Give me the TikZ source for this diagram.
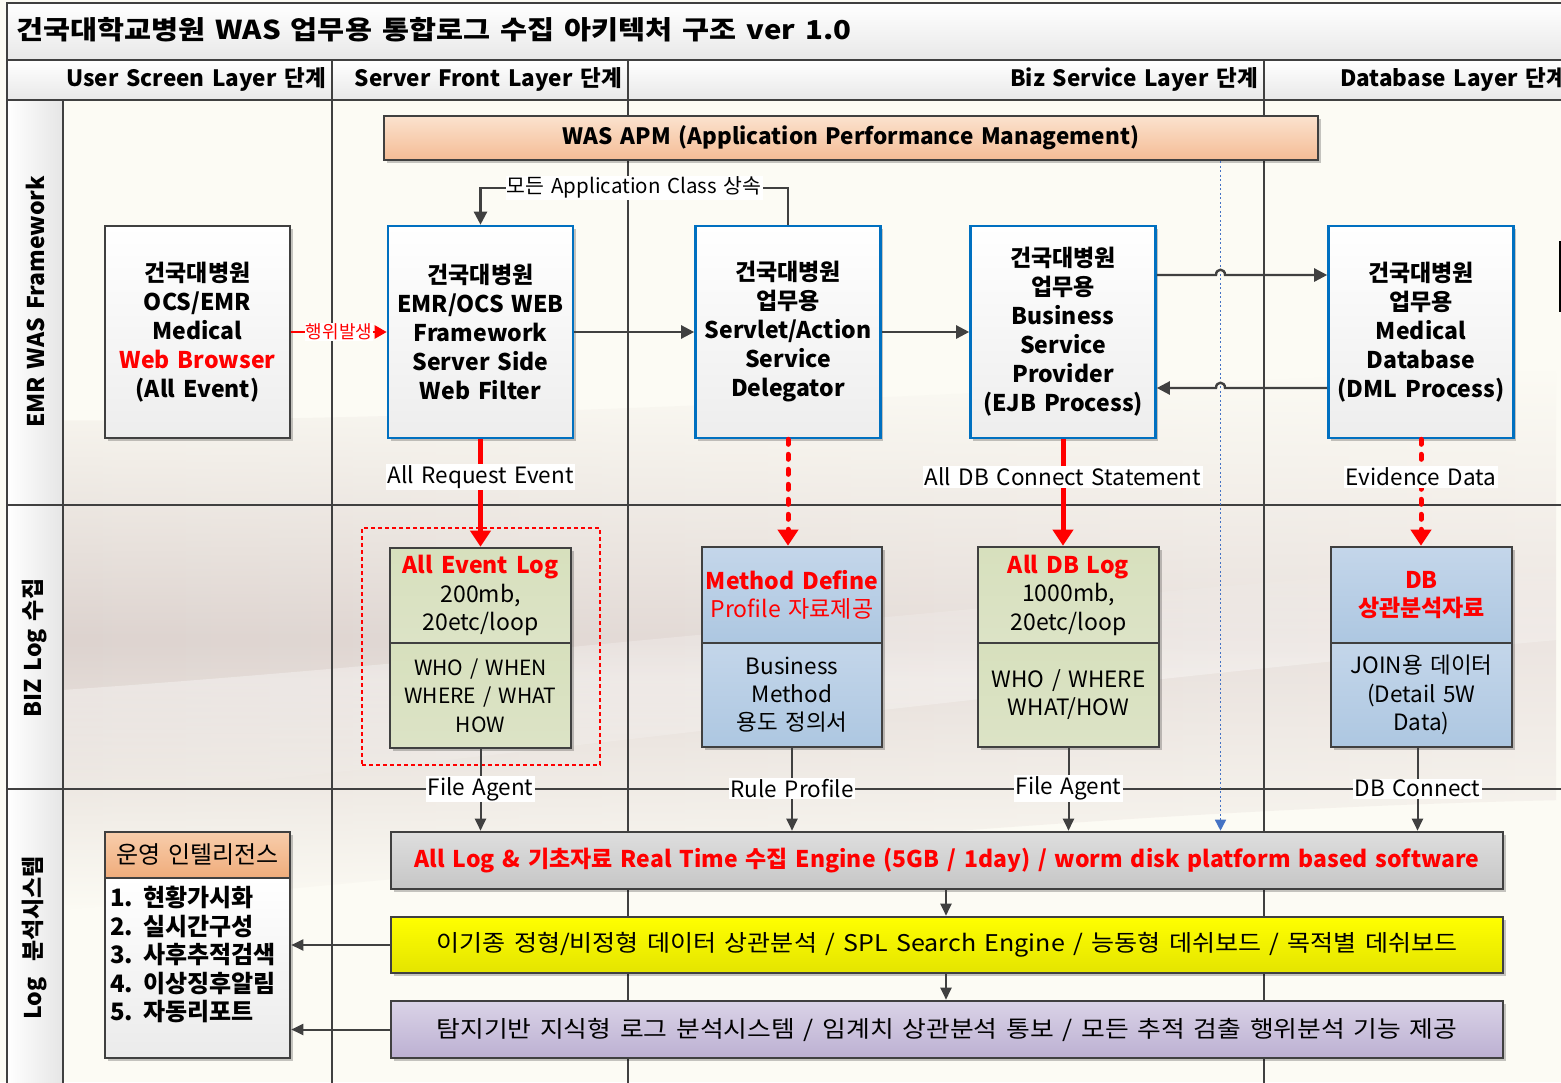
\documentclass[tikz,border=0pt]{standalone}
\usepackage{fontspec}
\setmainfont{Noto Sans CJK KR}[WordSpace=1.5]
\usetikzlibrary{arrows.meta,shadows,fadings}
\definecolor{ln}{HTML}{404040}
\definecolor{bluee}{HTML}{0070C0}
\definecolor{cream}{HTML}{FCFBF4}
\definecolor{swA}{HTML}{DDD3CF}
\definecolor{swB}{HTML}{ECE5E1}
\definecolor{grnA}{HTML}{D7E0BD}
\definecolor{grnB}{HTML}{DCE3C6}
\definecolor{bluA}{HTML}{C4D6EA}
\definecolor{bluB}{HTML}{ADC7E1}
\definecolor{apmA}{HTML}{FBE2CE}
\definecolor{apmB}{HTML}{F4BC95}
\definecolor{engA}{HTML}{DEDEDE}
\definecolor{engB}{HTML}{C6C6C6}
\definecolor{yelA}{HTML}{FFFF00}
\definecolor{yelB}{HTML}{E4E400}
\definecolor{purA}{HTML}{DAD3E7}
\definecolor{purB}{HTML}{BCB0D2}
\definecolor{orgA}{HTML}{F8CDAB}
\definecolor{orgB}{HTML}{EFAC7B}
\definecolor{trf}{HTML}{4472C4}
\newcommand\myfs[2]{\fontsize{#1}{#2}\selectfont}
\tikzfading[name=softband, top color=transparent!100, bottom color=transparent!100, middle color=transparent!0]
\begin{document}
\begin{tikzpicture}[x=1pt,y=-1pt,
  frame/.style={draw=ln, line width=2.6pt},
  shad/.style={drop shadow={shadow xshift=2.5pt, shadow yshift=-2.5pt, opacity=0.22, fill=black}},
  bigbox/.style={draw=ln, line width=2.6pt, minimum width=185, minimum height=212, align=center,
     font=\myfs{23}{29}\bfseries, top color=white, bottom color=black!7, shad, inner sep=2pt},
  bluebox/.style={bigbox, draw=bluee},
  logbox/.style={draw=ln, line width=2.6pt, minimum width=181, align=center, shad, inner sep=1pt},
  grnbox/.style={logbox, top color=grnA, bottom color=grnB},
  blubox/.style={logbox, top color=bluA, bottom color=bluB},
  bar/.style={draw=ln, line width=2.6pt, minimum width=1112, minimum height=56, shad},
  lbl/.style={fill=white, inner sep=1.5pt, font=\myfs{22.5}{26}},
  arr/.style={draw=ln, line width=2.4pt, -{Triangle[width=13pt,length=13pt]}},
  sarr/.style={draw=ln, line width=2pt, -{Triangle[width=11pt,length=12pt]}},
  redarr/.style={draw=red, line width=5pt, -{Triangle[width=20pt,length=16pt]}},
  reddash/.style={redarr, line cap=round, dash pattern=on 5pt off 10pt},
  lane/.style={rotate=90, font=\myfs{23}{26}\bfseries},
  hdr/.style={font=\myfs{22.5}{25}\bfseries, inner sep=0pt},
]
\clip (0,0) rectangle (1561,1082);
% background
\fill[cream] (0,0) rectangle (1561,1082);
\shade[left color=swA, right color=swB, path fading=softband]
  (63,420) .. controls (600,420) and (1100,380) .. (1561,370) -- (1561,800)
  .. controls (1100,810) and (600,860) .. (63,910) -- cycle;
\fill[white, opacity=0.35, path fading=softband]
  (63,690) .. controls (500,660) and (1000,600) .. (1561,560) -- (1561,640)
  .. controls (1000,690) and (500,760) .. (63,800) -- cycle;
\shade[top color=white, bottom color=black!9] (7,3) rectangle (1561,60);
\shade[top color=white, bottom color=black!9] (7,60) rectangle (1561,100);
\shade[left color=white, right color=black!10] (7,100) rectangle (63,1082);
% grid
\draw[frame] (7,1090) -- (7,3) -- (1570,3);
\draw[frame] (7,60) -- (1570,60);
\draw[frame] (7,100) -- (1570,100);
\draw[frame] (63,100) -- (63,1090);
\draw[frame] (332,60) -- (332,1090);
\draw[frame] (628,60) -- (628,1090);
\draw[frame] (1264,60) -- (1264,1090);
\draw[frame] (7,505) -- (1570,505);
\draw[frame] (7,789) -- (1570,789);
% title and headers
\node[anchor=west, inner sep=0pt] (title) at (16,30) {\resizebox{835pt}{\height}{\myfs{26}{30}\bfseries 건국대학교병원 WAS 업무용 통합로그 수집 아키텍처 구조 ver 1.0}};
\node[hdr, anchor=east] (h1) at (326,79) {User Screen Layer 단계};
\node[hdr, anchor=east] (h2) at (622,79) {Server Front Layer 단계};
\node[hdr, anchor=east] (h3) at (1258,79) {Biz Service Layer 단계};
\node[hdr, anchor=west] (h4) at (1340,79) {Database Layer 단계};
\node[lane] (l1) at (35,302) {EMR WAS Framework};
\node[lane] (l2) at (35,648) {BIZ Log 수집};
\node[lane] (l3) at (35,938) {Log \ 분석시스템};
% right edge sliver
\draw[black, line width=2pt, fill=white] (1559.5,242) rectangle (1600,311);
% APM
\node[draw=ln, line width=2.6pt, minimum width=934, minimum height=44, top color=apmA, bottom color=apmB, shad,
  font=\myfs{22.5}{26}\bfseries] (apm) at (851,138) {WAS APM (Application Performance Management)};
% main boxes
\node[bigbox] (web) at (197.5,332) {건국대병원\\OCS/EMR\\Medical\\{\color{red}Web Browser}\\(All Event)};
\node[bluebox] (fw) at (480.5,332) {건국대병원\\EMR/OCS WEB\\Framework\\Server Side\\Web Filter};
\node[bluebox] (svc) at (788,332) {건국대병원\\업무용\\Servlet/Action\\Service\\Delegator};
\node[bluebox] (biz) at (1063,332) {건국대병원\\업무용\\Business\\Service\\Provider\\(EJB Process)};
\node[bluebox] (db) at (1421,332) {건국대병원\\업무용\\Medical\\Database\\(DML Process)};
% log boxes
\node[grnbox, minimum height=95, font=\myfs{23}{28.5}] (aelt) at (480.5,595.5)
  {{\color{red}\bfseries All Event Log}\\200mb,\\20etc/loop};
\node[grnbox, minimum height=105, font=\myfs{21}{28.5}] (aelb) at (480.5,695.5)
  {WHO / WHEN\\WHERE / WHAT\\HOW};
\node[blubox, minimum width=180, minimum height=96, font=\myfs{23}{27.5}] (mdt) at (792,595)
  {{\bfseries\color{red}Method Define}\\{\color{red}Profile 자료제공}};
\node[blubox, minimum width=180, minimum height=104, font=\myfs{22.5}{28}] (mdb) at (792,695)
  {Business\\Method\\용도 정의서};
\node[grnbox, minimum height=96, font=\myfs{23}{28.5}] (dblt) at (1068.5,595)
  {{\color{red}\bfseries All DB Log}\\1000mb,\\20etc/loop};
\node[grnbox, minimum height=104, font=\myfs{22.5}{28}] (dblb) at (1068.5,695)
  {WHO / WHERE\\WHAT/HOW};
\node[blubox, minimum height=96, font=\myfs{23}{27.5}\bfseries\color{red}] (dbct) at (1421.5,595)
  {DB\\상관분석자료};
\node[blubox, minimum height=104, font=\myfs{22.5}{28.5}] (dbcb) at (1421.5,695)
  {JOIN용 데이터\\(Detail 5W\\Data)};
\node[draw=red, line width=2pt, dash pattern=on 4pt off 3pt, minimum width=238, minimum height=237] (sel) at (481,646.5) {};
% bars
\node[bar, top color=engA, bottom color=engB, minimum height=57] (eng) at (947,860.5)
  {\resizebox{1065pt}{\height}{\myfs{23}{27}\bfseries\color{red}All Log \& 기초자료 Real Time 수집 Engine (5GB / 1day) / worm disk platform based software}};
\node[bar, top color=yelA, bottom color=yelB] (yel) at (947,945)
  {\resizebox{1021pt}{\height}{\myfs{23}{27}이기종 정형/비정형 데이터 상관분석 / SPL Search Engine / 능동형 데쉬보드 / 목적별 데쉬보드}};
\node[bar, top color=purA, bottom color=purB, minimum height=57] (pur) at (947,1029.5)
  {\resizebox{1021pt}{\height}{\myfs{23}{27}탐지기반 지식형 로그 분석시스템 / 임계치 상관분석 통보 / 모든 추적 검출 행위분석 기능 제공}};
% operation intelligence
\node[draw=ln, line width=2.6pt, minimum width=185, minimum height=46, top color=orgA, bottom color=orgB, shad,
  font=\myfs{24}{28}] (oph) at (197.5,855) {운영 인텔리전스};
\node[draw=ln, line width=2.6pt, minimum width=185, minimum height=180, top color=white, bottom color=black!8, shad] (opb) at (197.5,968) {};
\node[anchor=north west, align=left, inner sep=0pt, font=\myfs{24}{28.5}\bfseries] (opl) at (110,886)
  {1. 현황가시화\\2. 실시간구성\\3. 사후추적검색\\4. 이상징후알림\\5. 자동리포트};
% connectors
\coordinate (tx) at (1220.5,0);
\draw[trf, line width=1.5pt, dash pattern=on 2pt off 2.5pt, -{Triangle[width=11pt,length=11pt]}]
  (apm.south -| tx) -- (eng.north -| tx);
\draw[arr] (svc.north) -- ++(0,-37) -| node[pos=0.25, fill=white, inner sep=1pt, font=\myfs{20.5}{24}] {모든 Application Class 상속} (fw.north);
\draw[draw=red, line width=2.4pt, -{Triangle[width=13pt,length=12pt]}] (web.east) -- node[pos=0.5, fill=white, inner sep=1pt, text=red, font=\myfs{18}{22}] {행위발생} (fw.west);
\draw[arr] (fw.east) -- (svc.west);
\draw[arr] (svc.east) -- (biz.west);
\draw[arr] ([yshift=57pt]biz.east) -- (1216,275) .. controls (1216,268) and (1225,268) .. (1225,275) -- ([yshift=57pt]biz.east -| db.west);
\draw[arr] ([yshift=-56pt]db.west) -- (1225,388) .. controls (1225,381) and (1216,381) .. (1216,388) -- ([yshift=-56pt]db.west -| biz.east);
\draw[redarr] (fw.south) -- node[lbl, pos=0.355] {All Request Event} (fw.south |- aelt.north);
\draw[reddash] (svc.south) -- (svc.south |- mdt.north);
\draw[redarr] (biz.south) -- node[lbl, pos=0.355] {All DB Connect Statement} (biz.south |- dblt.north);
\draw[reddash] (db.south) -- node[lbl, pos=0.355, text=black] {Evidence Data} (db.south |- dbct.north);
\draw[sarr] (aelb.south) -- node[lbl, pos=0.49] {File Agent} (aelb.south |- eng.north);
\draw[sarr] (mdb.south) -- node[lbl, pos=0.49] {Rule Profile} (mdb.south |- eng.north);
\draw[sarr] (dblb.south) -- node[lbl, pos=0.49] {File Agent} (dblb.south |- eng.north);
\draw[sarr] ([xshift=-4pt]dbcb.south) -- node[lbl, pos=0.49] {DB Connect} ([xshift=-4pt]dbcb.south |- eng.north);
\draw[sarr] ([xshift=-1pt]eng.south) -- ([xshift=-1pt]yel.north);
\draw[sarr] ([xshift=-1pt]yel.south) -- ([xshift=-1pt]pur.north);
\draw[sarr] (yel.west) -- (yel.west -| opb.east);
\draw[sarr] (pur.west) -- (pur.west -| opb.east);
\end{tikzpicture}
\end{document}
